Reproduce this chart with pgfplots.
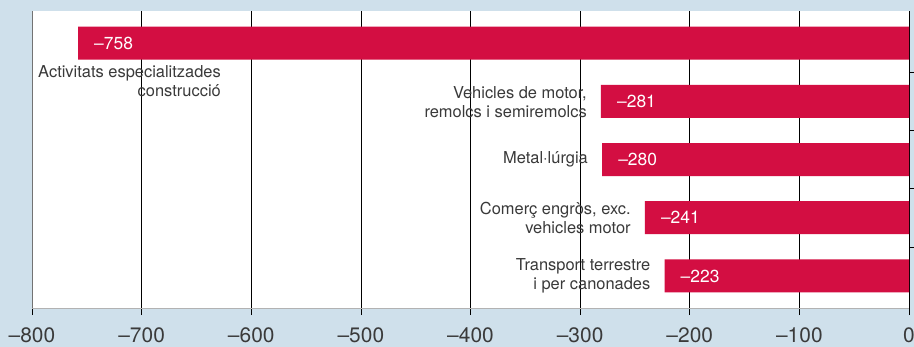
\documentclass[border=0pt]{standalone}
\usepackage{fontspec}
\setmainfont{TeX Gyre Heros}
\usepackage{pgfplots}
\pgfplotsset{compat=1.18}
\definecolor{bgblue}{HTML}{CFE0EB}
\definecolor{barred}{HTML}{D30E42}
\definecolor{txt}{HTML}{3A3A3A}
\begin{document}
\fontsize{16.5}{19}\selectfont
\begin{tikzpicture}
\useasboundingbox (0,0) rectangle (914bp,347bp);
\fill[bgblue] (0,0) rectangle (914bp,347bp);
\clip (0,0) rectangle (914bp,347bp);
\begin{axis}[
  at={(32bp,39bp)}, anchor=south west,
  width=877bp, height=297bp, scale only axis,
  axis background/.style={fill=white},
  xmin=-800, xmax=0, ymin=-0.55, ymax=4.55, y dir=reverse,
  xbar, bar width=33bp, bar shift=0pt,
  xtick={-800,-700,...,0},
  xticklabels={–800,–700,–600,–500,–400,–300,–200,–100,0},
  xtick pos=lower, ytick pos=right,
  ytick={0.5,1.5,2.5,3.5}, yticklabels={},
  tick align=outside, major tick length=7bp,
  tick style={black, line width=0.6pt},
  xmajorgrids, grid style={black, line width=0.6pt},
  axis line style={draw=none},
  xticklabel style={txt, font=\fontsize{21}{24}\selectfont, yshift=-7bp},
  nodes near coords, point meta=explicit symbolic,
  nodes near coords style={white, anchor=west, inner sep=0pt, xshift=16bp,
    font=\fontsize{17.5}{20}\selectfont},
]
\addplot[fill=barred, draw=none] coordinates {
  (-758,0) [–758]
  (-281,1) [–281]
  (-280,2) [–280]
  (-241,3) [–241]
  (-223,4) [–223]
};
\draw[gray!90!black] (rel axis cs:0,0) -- (rel axis cs:0,1);
\draw[black!30] (rel axis cs:0,0) -- (rel axis cs:1,0);
\begin{scope}[every node/.style={txt, align=right, inner sep=0pt}]
\node[anchor=east] at (axis cs:-627.6,0) [yshift=-38bp] {Activitats especialitzades\\construcció};
\node[anchor=east] at (axis cs:-281,1) [xshift=-14bp, yshift=-1bp] {Vehicles de motor,\\remolcs i semiremolcs};
\node[anchor=east] at (axis cs:-280,2) [xshift=-14bp] {Metal·lúrgia};
\node[anchor=east] at (axis cs:-241,3) [xshift=-14bp] {Comerç engròs, exc.\\vehicles motor};
\node[anchor=east] at (axis cs:-223,4) [xshift=-14bp] {Transport terrestre\\i per canonades};
\end{scope}
\end{axis}
\end{tikzpicture}
\end{document}
